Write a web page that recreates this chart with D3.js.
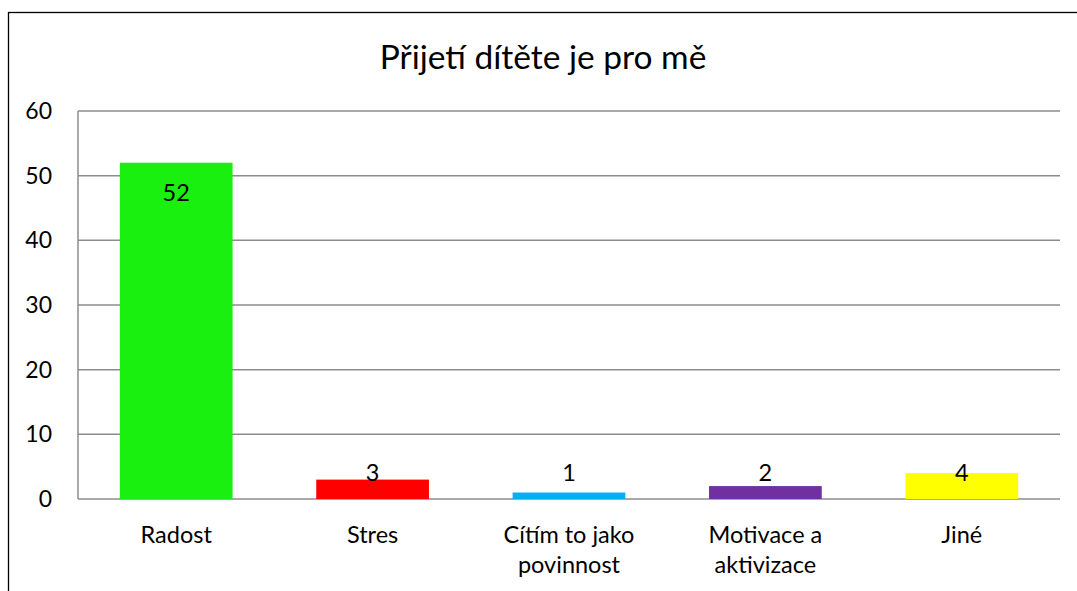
<!DOCTYPE html>
<html>
<head>
<meta charset="utf-8">
<script src="https://cdn.jsdelivr.net/npm/d3@7"></script>
<style>
  html, body { margin: 0; padding: 0; background: #fff; }
  svg { display: block; }
</style>
</head>
<body>
<div id="chart"></div>
<script>
// Přijetí dítěte je pro mě - column chart, one colour per category

const categories = ["Radost", "Stres", "Cítím to jako povinnost", "Motivace a aktivizace", "Jiné"];
const labelLines = [["Radost"], ["Stres"], ["Cítím to jako", "povinnost"], ["Motivace a", "aktivizace"], ["Jiné"]];
const values     = [52, 3, 1, 2, 4];
const colors     = ["#1af00f", "#ff0000", "#00b0f0", "#7030a0", "#ffff00"];
const yTicks     = [0, 10, 20, 30, 40, 50, 60];

const width  = 1077;
const height = 591;
const margin = { top: 111, right: 17, bottom: 92, left: 78 };
const font   = "Lato, 'Open Sans', sans-serif";

const svg = d3.select("#chart")
  .append("svg")
  .attr("width", width)
  .attr("height", height);

// chart frame (right and bottom edges fall outside the picture)
svg.append("rect")
  .attr("x", 8.5)
  .attr("y", 12.5)
  .attr("width", width + 20)
  .attr("height", height + 20)
  .attr("fill", "#fff")
  .attr("stroke", "#000")
  .attr("stroke-width", 1.3);

const x = d3.scaleBand()
  .domain(categories)
  .range([margin.left, width - margin.right])
  .paddingInner(0.426)
  .paddingOuter(0.213);

const y = d3.scaleLinear()
  .domain([0, 60])
  .range([height - margin.bottom, margin.top]);

// gridlines
svg.append("g")
  .selectAll("line")
  .data(yTicks)
  .join("line")
  .attr("x1", margin.left)
  .attr("x2", width - margin.right)
  .attr("y1", d => y(d))
  .attr("y2", d => y(d))
  .attr("stroke", "#8c8c8c")
  .attr("stroke-width", 1.5);

// left axis line
svg.append("line")
  .attr("x1", margin.left)
  .attr("x2", margin.left)
  .attr("y1", y(60))
  .attr("y2", y(0))
  .attr("stroke", "#8c8c8c")
  .attr("stroke-width", 1.5);

// y tick labels
svg.append("g")
  .selectAll("text")
  .data(yTicks)
  .join("text")
  .attr("x", 52)
  .attr("y", d => y(d))
  .attr("dy", "0.35em")
  .attr("text-anchor", "end")
  .attr("font-family", font)
  .attr("font-size", "23px")
  .attr("fill", "#000")
  .text(d => d);

// bars
svg.append("g")
  .selectAll("rect")
  .data(values)
  .join("rect")
  .attr("x", (d, i) => x(categories[i]))
  .attr("y", d => y(d))
  .attr("width", x.bandwidth())
  .attr("height", d => y(0) - y(d))
  .attr("fill", (d, i) => colors[i]);

// value labels: inside the top of tall bars, otherwise at a common level near the base
svg.append("g")
  .selectAll("text")
  .data(values)
  .join("text")
  .attr("x", (d, i) => x(categories[i]) + x.bandwidth() / 2)
  .attr("y", d => Math.min(y(d) + 30, y(4)))
  .attr("dy", "0.35em")
  .attr("text-anchor", "middle")
  .attr("font-family", font)
  .attr("font-size", "23.5px")
  .attr("fill", "#000")
  .text(d => d);

// category labels
const catLabels = svg.append("g")
  .selectAll("text")
  .data(categories)
  .join("text")
  .attr("x", d => x(d) + x.bandwidth() / 2)
  .attr("y", 543)
  .attr("text-anchor", "middle")
  .attr("font-family", font)
  .attr("font-size", "23.5px")
  .attr("fill", "#000");

catLabels.selectAll("tspan")
  .data((d, i) => labelLines[i])
  .join("tspan")
  .attr("x", function () { return d3.select(this.parentNode).attr("x"); })
  .attr("dy", (d, j) => j === 0 ? 0 : 30)
  .text(d => d);

// title
svg.append("text")
  .attr("x", 543)
  .attr("y", 69)
  .attr("text-anchor", "middle")
  .attr("font-family", font)
  .attr("font-size", "33.5px")
  .attr("fill", "#000")
  .text("Přijetí dítěte je pro mě");
</script>
</body>
</html>
